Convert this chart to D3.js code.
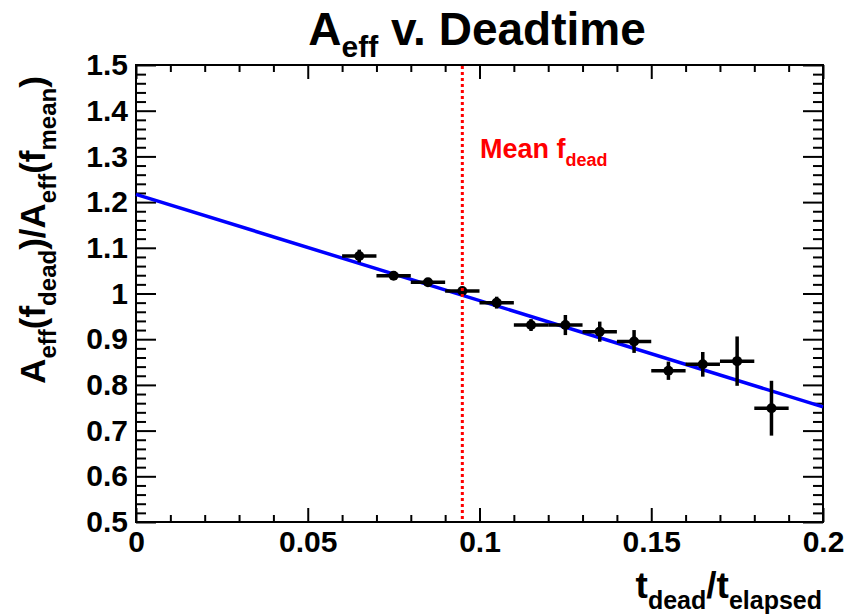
<!DOCTYPE html>
<html><head><meta charset="utf-8">
<script src="https://cdn.jsdelivr.net/npm/d3@7"></script>
<style>body{margin:0;background:#fff}svg{display:block}text{font-family:"Liberation Sans",Arial,sans-serif;font-weight:bold}</style>
</head><body><svg id="c" width="848" height="616"></svg>
<script>
// ---- data ----
const binCenters = [0.065,0.075,0.085,0.095,0.105,0.115,0.125,0.135,0.145,0.155,0.165,0.175,0.185];
const ratioValues = [1.082,1.039,1.0245,1.0055,0.980,0.931,0.931,0.9165,0.895,0.831,0.845,0.852,0.749];
const ratioErrors = [0.014,0.007,0.006,0.006,0.013,0.013,0.022,0.022,0.025,0.02,0.027,0.054,0.06];
const binHalfWidths = [0.005,0.005,0.005,0.005,0.005,0.005,0.005,0.005,0.005,0.005,0.005,0.005,0.005];
const fitX = [0, 0.2];
const fitY = [1.217, 0.752];
const meanDead = 0.095;
const xTicks = [0, 0.05, 0.1, 0.15, 0.2];
const xTickLabels = ["0","0.05","0.1","0.15","0.2"];
const yTicks = [0.5,0.6,0.7,0.8,0.9,1.0,1.1,1.2,1.3,1.4,1.5];
const yTickLabels = ["0.5","0.6","0.7","0.8","0.9","1","1.1","1.2","1.3","1.4","1.5"];

const svg = d3.select("#c");
svg.append("rect").attr("width",848).attr("height",616).attr("fill","#fff");
const L=136,R=823,T=65,B=522;
const x = d3.scaleLinear().domain([0,0.2]).range([L,R]);
const y = d3.scaleLinear().domain([0.5,1.5]).range([B,T]);

const xMinor = d3.range(0,0.2001,0.01).filter(v=>!xTicks.some(t=>Math.abs(t-v)<1e-9));
const yMinor = d3.range(0.5,1.5001,0.02).filter(v=>!yTicks.some(t=>Math.abs(t-v)<1e-9));

function styleAxis(g){ g.select(".domain").remove(); g.selectAll("line").attr("stroke","#000").attr("stroke-width",2);
  g.selectAll("text").attr("fill","#000").style("font-size","30px").style("font-family","'Liberation Sans',Arial,sans-serif").style("font-weight","bold"); }

// bottom
svg.append("g").attr("transform",`translate(0,${B})`)
  .call(d3.axisBottom(x).tickValues(xTicks).tickFormat((d,i)=>xTickLabels[i]).tickSize(-14).tickPadding(9)).call(styleAxis);
svg.append("g").attr("transform",`translate(0,${B})`)
  .call(d3.axisBottom(x).tickValues(xMinor).tickFormat("").tickSize(-7)).call(styleAxis);
// top
svg.append("g").attr("transform",`translate(0,${T})`)
  .call(d3.axisTop(x).tickValues(xTicks).tickFormat("").tickSize(-14)).call(styleAxis);
svg.append("g").attr("transform",`translate(0,${T})`)
  .call(d3.axisTop(x).tickValues(xMinor).tickFormat("").tickSize(-7)).call(styleAxis);
// left
svg.append("g").attr("transform",`translate(${L},0)`)
  .call(d3.axisLeft(y).tickValues(yTicks).tickFormat((d,i)=>yTickLabels[i]).tickSize(-20).tickPadding(8)).call(styleAxis);
svg.append("g").attr("transform",`translate(${L},0)`)
  .call(d3.axisLeft(y).tickValues(yMinor).tickFormat("").tickSize(-10)).call(styleAxis);
// right
svg.append("g").attr("transform",`translate(${R},0)`)
  .call(d3.axisRight(y).tickValues(yTicks).tickFormat("").tickSize(-20)).call(styleAxis);
svg.append("g").attr("transform",`translate(${R},0)`)
  .call(d3.axisRight(y).tickValues(yMinor).tickFormat("").tickSize(-10)).call(styleAxis);

// frame
svg.append("rect").attr("x",L).attr("y",T).attr("width",R-L).attr("height",B-T)
  .attr("fill","none").attr("stroke","#000").attr("stroke-width",2);

// fit line
svg.append("line").attr("x1",x(fitX[0])).attr("y1",y(fitY[0])).attr("x2",x(fitX[1])).attr("y2",y(fitY[1]))
  .attr("stroke","#0000ff").attr("stroke-width",3.5);

// data points
const pts = binCenters.map((c,i)=>({c, v:ratioValues[i], e:ratioErrors[i], w:binHalfWidths[i]}));
const pg = svg.append("g");
pg.selectAll("line.h").data(pts).join("line").attr("class","h")
  .attr("x1",d=>x(d.c-d.w)).attr("x2",d=>x(d.c+d.w)).attr("y1",d=>y(d.v)).attr("y2",d=>y(d.v))
  .attr("stroke","#000").attr("stroke-width",3.5);
pg.selectAll("line.v").data(pts).join("line").attr("class","v")
  .attr("x1",d=>x(d.c)).attr("x2",d=>x(d.c)).attr("y1",d=>y(d.v-d.e)).attr("y2",d=>y(d.v+d.e))
  .attr("stroke","#000").attr("stroke-width",3.5);
pg.selectAll("circle").data(pts).join("circle")
  .attr("cx",d=>x(d.c)).attr("cy",d=>y(d.v)).attr("r",5).attr("fill","#000");

// mean line
svg.append("line").attr("x1",x(meanDead)).attr("x2",x(meanDead)).attr("y1",T+1).attr("y2",B-1)
  .attr("stroke","#ff0000").attr("stroke-width",3).attr("stroke-dasharray","3,3");

function rich(g, segs, size, subSize, subDy){
  segs.forEach(s=>{
    const ts = g.append("tspan").text(s.t);
    if(s.sub){ ts.style("font-size",subSize+"px").attr("dy",subDy); }
    else { ts.style("font-size",size+"px"); if(s.after) ts.attr("dy",-subDy); }
  });
  return g;
}

// legend text
rich(svg.append("text").attr("x",480).attr("y",158).attr("fill","#ff0000"),
  [{t:"Mean f"},{t:"dead",sub:true}], 27, 18, 8);

// title
rich(svg.append("text").attr("x",477).attr("y",45).attr("text-anchor","middle").attr("fill","#000"),
  [{t:"A"},{t:"eff",sub:true},{t:" v. Deadtime",after:true}], 46, 30, 12);

// x label
rich(svg.append("text").attr("x",822).attr("y",598).attr("text-anchor","end").attr("fill","#000"),
  [{t:"t"},{t:"dead",sub:true},{t:"/t",after:true},{t:"elapsed",sub:true}], 37, 25, 11);

// y label
rich(svg.append("text").attr("transform","translate(45,230) rotate(-90)").attr("text-anchor","middle").attr("fill","#000"),
  [{t:"A"},{t:"eff",sub:true},{t:"(f",after:true},{t:"dead",sub:true},{t:")/A",after:true},{t:"eff",sub:true},{t:"(f",after:true},{t:"mean",sub:true},{t:")",after:true}], 35, 24, 11);
</script></body></html>
